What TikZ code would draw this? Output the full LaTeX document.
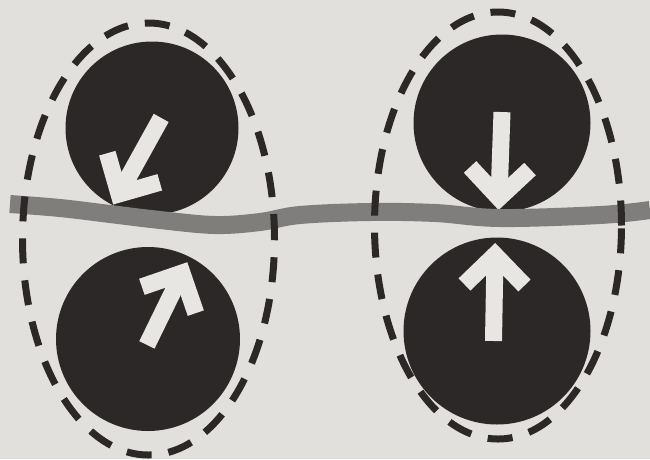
\documentclass[tikz,border=0pt]{standalone}
\usetikzlibrary{shapes.geometric}
\definecolor{paper}{RGB}{226,224,220}
\definecolor{ink}{RGB}{44,40,40}
\definecolor{band}{RGB}{128,126,124}
\definecolor{arrowwhite}{RGB}{232,230,226}
\tikzset{
  ball/.style={circle, fill=ink, draw=none, inner sep=0pt},
  cell/.style={ellipse, draw=ink, line width=7pt, dash pattern=on 25pt off 17pt, inner sep=0pt},
  arrowline/.style={draw=arrowwhite, line width=17pt, line cap=butt, line join=miter},
  warrow/.pic={
    \draw[arrowline] (0,0) -- (-#1,0);
    \draw[arrowline] (-30,30) -- (0,0) -- (-30,-30);
  }
}
\begin{document}
\begin{tikzpicture}[x=1pt,y=-1pt]
\fill[paper] (0,0) rectangle (650,459);
\useasboundingbox (0,0) rectangle (650,459);
% molecules
\node[ball, minimum size=173pt] (tl) at (152,128) {};
\node[ball, minimum size=177pt] (tr) at (502,123) {};
\node[ball, minimum size=184pt] (bl) at (148,339) {};
\node[ball, minimum size=187pt] (br) at (497,331) {};
% spins
\pic[rotate=241] at (119,194) {warrow=87};
\pic[rotate=268] at (499,198) {warrow=86};
\pic[rotate=64] at (182,273) {warrow=80};
\pic[rotate=89] at (495,255) {warrow=86};
% interface
\draw[band, line width=18pt, line cap=butt] plot[smooth, tension=0.6] coordinates
  {(10,204) (60,208) (110,214) (160,220) (215,225) (260,222) (300,215) (370,212) (435,213) (500,218) (600,215) (650,210)};
% pairs
\node[cell, minimum width=252pt, minimum height=432pt] (left) at (148.5,239) {};
\node[cell, minimum width=247pt, minimum height=427pt] (right) at (498,225.5) {};
\end{tikzpicture}
\end{document}
